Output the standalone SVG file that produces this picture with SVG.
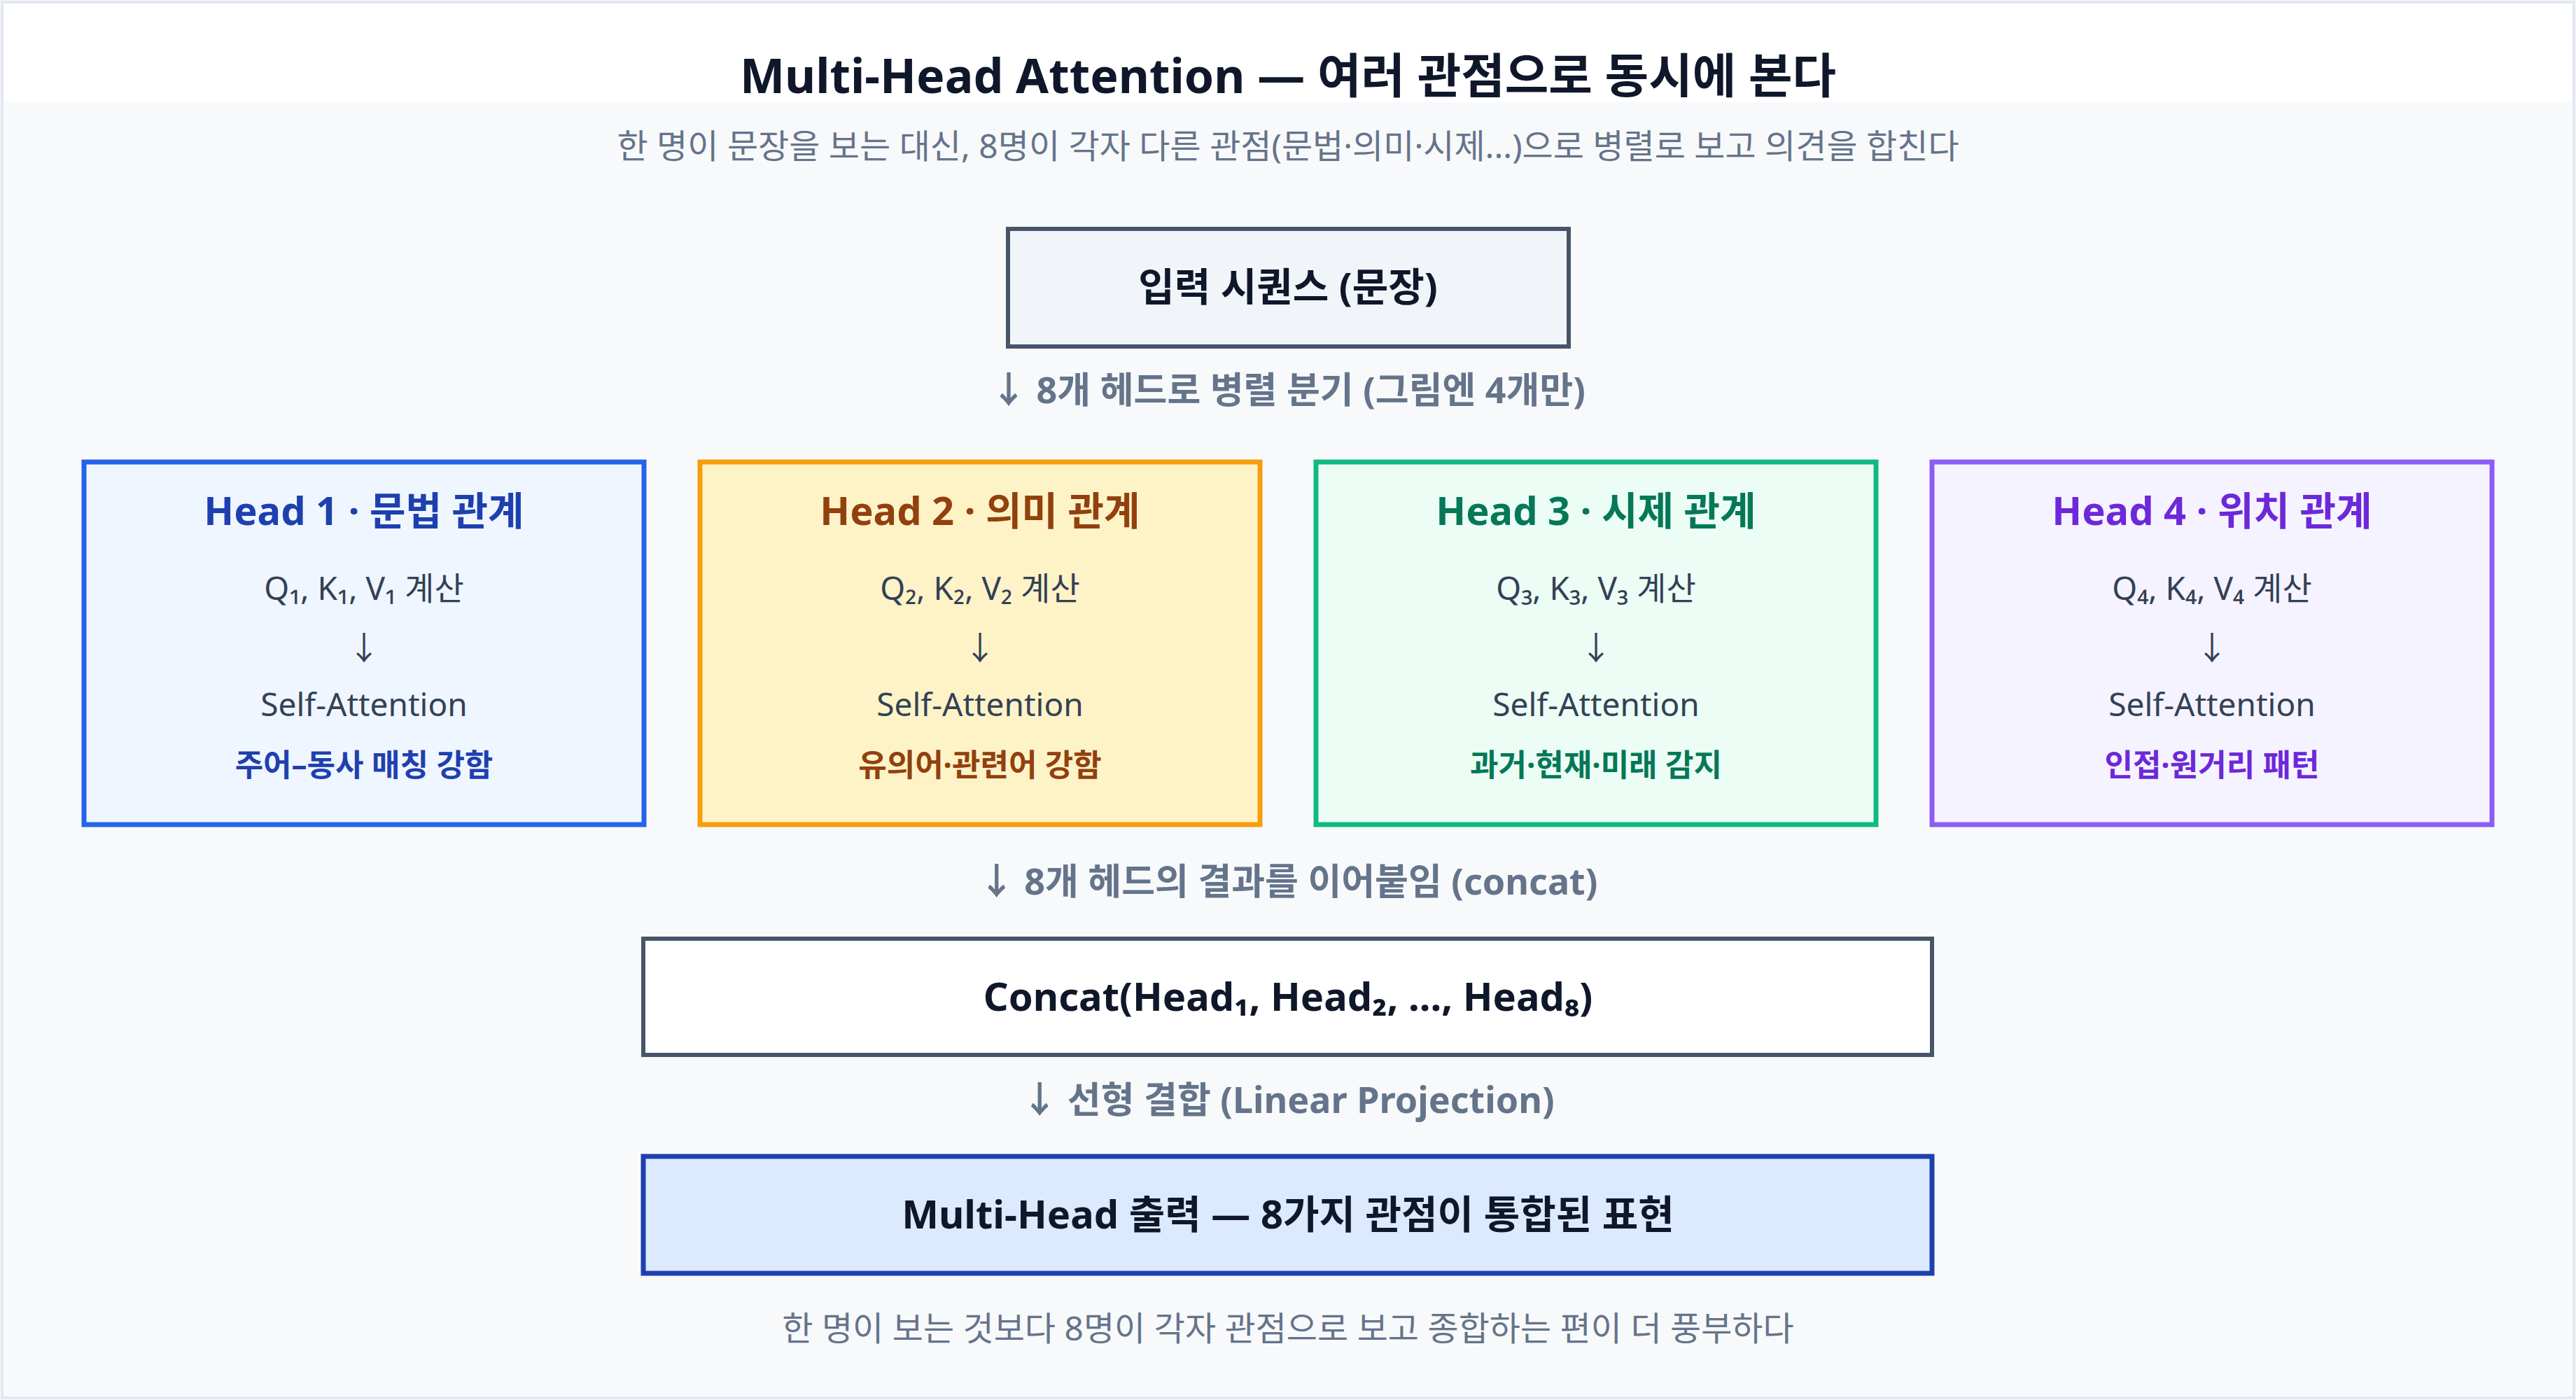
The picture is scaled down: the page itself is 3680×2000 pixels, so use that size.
<svg xmlns="http://www.w3.org/2000/svg" width="3680" height="2000" viewBox="0 0 3680 2000">
<style>
text{font-family:"Noto Sans","Noto Sans CJK KR",sans-serif;text-anchor:middle}
.t{font-size:68px;font-weight:700;fill:#0f172a}
.sub{font-size:48px;fill:#64748b}
.lbl{font-size:52px;font-weight:700;fill:#64748b}
.bt{font-size:56px;font-weight:700;fill:#0f172a}
.h{font-size:56px;font-weight:700}
.q{font-size:46px;fill:#334155}
.n{font-size:44px;font-weight:700}
</style>
<rect x="0" y="0" width="3680" height="2000" fill="#f8f9fa"/>
<rect x="3" y="3" width="3674" height="143" fill="#ffffff"/>
<rect x="3" y="3" width="3674" height="1994" fill="none" stroke="#e2e8f0" stroke-width="4"/>
<text class="t" x="1840" y="133">Multi-Head Attention — 여러 관점으로 동시에 본다</text>
<text class="sub" x="1840" y="226">한 명이 문장을 보는 대신, 8명이 각자 다른 관점(문법·의미·시제...)으로 병렬로 보고 의견을 합친다</text>
<g id="input"><rect x="1440" y="327" width="801" height="168" fill="#f1f5f9" stroke="#475569" stroke-width="6"/><text class="bt" x="1840" y="430">입력 시퀀스 (문장)</text></g>
<g id="connectors">
<text class="lbl" x="1840" y="576">↓ 8개 헤드로 병렬 분기 (그림엔 4개만)</text>
<text class="lbl" x="1840" y="1278">↓ 8개 헤드의 결과를 이어붙임 (concat)</text>
<text class="lbl" x="1840" y="1590">↓ 선형 결합 (Linear Projection)</text>
</g>
<g id="head1"><rect x="120" y="660" width="800" height="518" fill="#eff6ff" stroke="#2563eb" stroke-width="7"/>
<text class="h" x="520" y="750" fill="#1e40af">Head 1 · 문법 관계</text>
<text class="q" x="520" y="857">Q₁, K₁, V₁ 계산</text><text class="q" x="520" y="942">↓</text>
<text class="q" x="520" y="1023">Self-Attention</text><text class="n" x="520" y="1109" fill="#1e40af">주어–동사 매칭 강함</text></g>
<g id="head2"><rect x="1000" y="660" width="800" height="518" fill="#fef3c7" stroke="#f59e0b" stroke-width="7"/>
<text class="h" x="1400" y="750" fill="#92400e">Head 2 · 의미 관계</text>
<text class="q" x="1400" y="857">Q₂, K₂, V₂ 계산</text><text class="q" x="1400" y="942">↓</text>
<text class="q" x="1400" y="1023">Self-Attention</text><text class="n" x="1400" y="1109" fill="#92400e">유의어·관련어 강함</text></g>
<g id="head3"><rect x="1880" y="660" width="800" height="518" fill="#ecfdf5" stroke="#10b981" stroke-width="7"/>
<text class="h" x="2280" y="750" fill="#047857">Head 3 · 시제 관계</text>
<text class="q" x="2280" y="857">Q₃, K₃, V₃ 계산</text><text class="q" x="2280" y="942">↓</text>
<text class="q" x="2280" y="1023">Self-Attention</text><text class="n" x="2280" y="1109" fill="#047857">과거·현재·미래 감지</text></g>
<g id="head4"><rect x="2760" y="660" width="800" height="518" fill="#f5f3ff" stroke="#8b5cf6" stroke-width="7"/>
<text class="h" x="3160" y="750" fill="#6d28d9">Head 4 · 위치 관계</text>
<text class="q" x="3160" y="857">Q₄, K₄, V₄ 계산</text><text class="q" x="3160" y="942">↓</text>
<text class="q" x="3160" y="1023">Self-Attention</text><text class="n" x="3160" y="1109" fill="#6d28d9">인접·원거리 패턴</text></g>
<g id="concat"><rect x="919" y="1341" width="1841" height="166" fill="#ffffff" stroke="#475569" stroke-width="6"/><text class="bt" x="1840" y="1444">Concat(Head₁, Head₂, ..., Head₈)</text></g>
<g id="output"><rect x="919" y="1652" width="1841" height="167" fill="#dbeafe" stroke="#1e40af" stroke-width="7"/><text class="bt" x="1840" y="1755" fill="#1e3a8a">Multi-Head 출력 — 8가지 관점이 통합된 표현</text></g>
<text class="sub" x="1840" y="1915" fill="#94a3b8">한 명이 보는 것보다 8명이 각자 관점으로 보고 종합하는 편이 더 풍부하다</text>
</svg>
